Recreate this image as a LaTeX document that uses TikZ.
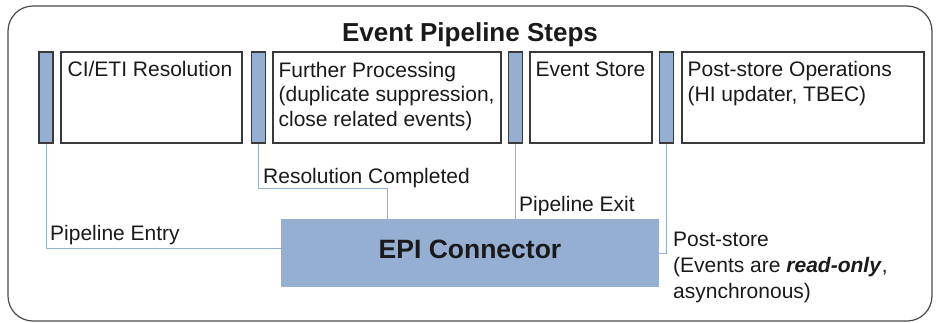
\documentclass[tikz,border=0pt]{standalone}
\usepackage{fontspec}
\setmainfont{Liberation Sans}
\usepackage{xcolor}
\usepackage{tikz}
\usetikzlibrary{positioning,calc}
\definecolor{INK}{HTML}{1A1A1A}
\definecolor{EDGE}{HTML}{3A3A3A}
\definecolor{FRAME}{HTML}{4A4A4A}
\definecolor{PIPE}{HTML}{95AFD3}
\definecolor{LINK}{HTML}{93B0D6}

\begin{document}
\begin{tikzpicture}[
  x=1pt, y=-1pt,
  font=\fontsize{21}{24.5}\selectfont,
  frame/.style={draw=FRAME, line width=1.2pt, rounded corners=25pt},
  bar/.style={draw=EDGE, fill=PIPE, line width=1.1pt, minimum width=14pt,
    minimum height=91pt, inner sep=0pt},
  stage/.style={draw=EDGE, fill=white, line width=1.1pt, minimum height=91pt,
    inner sep=0pt},
  stagetxt/.style={anchor=north west, inner sep=0pt, align=left, text=INK},
  tag/.style={anchor=base west, inner sep=0pt, text=INK},
  link/.style={draw=LINK, line width=1pt},
]
\useasboundingbox (0,0) rectangle (940,322);

% ---- frame and title ------------------------------------------------------
\draw[frame] (8,6) rectangle (932,321);
\node[anchor=base, inner sep=0pt, font=\fontsize{26}{30}\selectfont\bfseries, text=INK]
  (title) at (470,41.5) {Event Pipeline Steps};

% ---- pipeline bars ---------------------------------------------------------
\node[bar] (bar1) at (46,97.5) {};
\node[bar] (bar2) at (258.5,97.5) {};
\node[bar] (bar3) at (515.5,97.5) {};
\node[bar] (bar4) at (666.5,97.5) {};

% ---- stages ----------------------------------------------------------------
\node[stage, minimum width=181pt] (resolve) at (151.5,97.5) {};
\node[stage, minimum width=228pt] (further) at (387,97.5) {};
\node[stage, minimum width=122pt] (store) at (591,97.5) {};
\node[stage, minimum width=242pt] (post) at (803,97.5) {};

\node[stagetxt] (resolveTxt) at ($(resolve.north west)+(7,10)$) {CI/ETI Resolution};
\node[stagetxt] (furtherTxt) at ($(further.north west)+(6,10.5)$)
  {Further Processing\\(duplicate suppression,\\close related events)};
\node[stagetxt] (storeTxt) at ($(store.north west)+(6,10)$) {Event Store};
\node[stagetxt] (postTxt) at ($(post.north west)+(6,10)$)
  {Post-store Operations\\(HI updater, TBEC)};

% ---- EPI connector ---------------------------------------------------------
\node[fill=PIPE, minimum width=378pt, minimum height=68pt, inner sep=0pt,
  text height=19pt, text depth=9pt, font=\fontsize{26.5}{30}\selectfont\bfseries,
  text=INK] (epi) at (470,253) {EPI Connector};

% ---- hooks -----------------------------------------------------------------
\coordinate (done) at (387,188);
\draw[link] (bar1.south) |- ([yshift=5pt]epi.west);
\draw[link] (bar2.south) |- (done) -- (done |- epi.north);
\draw[link] (bar3.south) -- (bar3.south |- epi.north);
\draw[link] (bar4.south) |- (epi.east);

\node[tag] (entryTag) at (50,240) {Pipeline Entry};
\node[tag] (doneTag) at (263,183) {Resolution Completed};
\node[tag] (exitTag) at (519,211) {Pipeline Exit};
\node[anchor=north west, inner sep=0pt, align=left, text=INK,
  font=\fontsize{21}{26}\selectfont] (postTag) at (673,231.5)
  {Post-store\\(Events are \textbf{\textit{read-only}},\\asynchronous)};

\end{tikzpicture}
\end{document}
